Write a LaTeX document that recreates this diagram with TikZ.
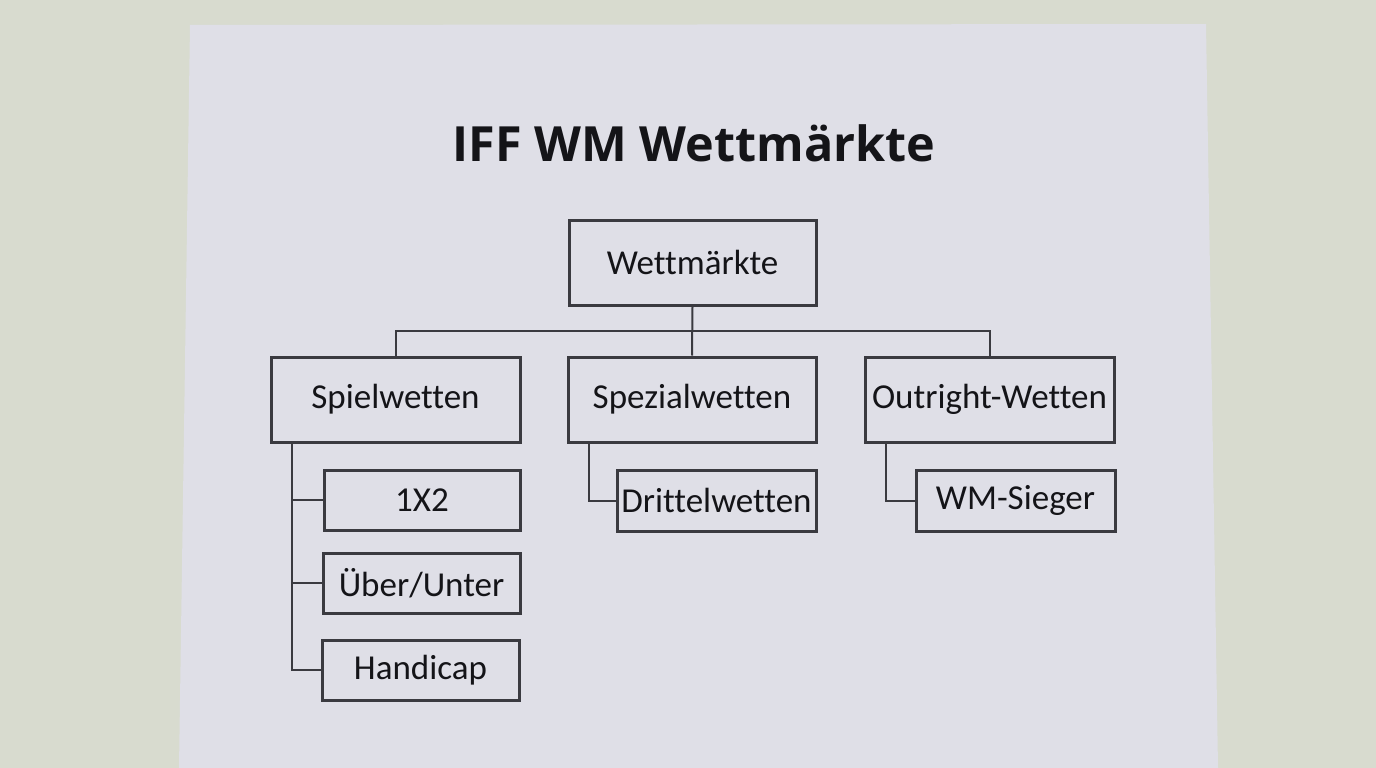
\documentclass[tikz,border=0pt]{standalone}
\usepackage{fontspec}
\setmainfont[Ligatures={NoCommon}]{Carlito}
\newfontfamily\titlefont{Open Sans}
\definecolor{bgc}{HTML}{D8DBCF}
\definecolor{paperc}{HTML}{DFDFE7}
\definecolor{ink}{HTML}{3A3A40}
\definecolor{txt}{HTML}{141418}
\begin{document}
\begin{tikzpicture}[x=1pt,y=-1pt,
  box/.style={draw=ink,line width=3pt,fill=paperc,text=txt,font=\fontsize{35}{38}\selectfont,inner sep=0pt},
  conn/.style={draw=ink,line width=2pt}]
\useasboundingbox (0,0) rectangle (1376,768);
\fill[bgc] (0,0) rectangle (1376,768);
\fill[paperc] (190,25) -- (1206,24) -- (1218,768) -- (179,768) -- cycle;
\node[text=txt,font=\titlefont\bfseries\fontsize{48.5}{54}\selectfont,anchor=base] (title) at (694,161) {IFF WM Wettmärkte};
% boxes
\node[box,minimum width=247pt,minimum height=85pt] (root) at (692.5,262.5) {Wettmärkte};
\node[box,minimum width=249pt,minimum height=85pt] (spiel) at (395.5,399.5) {Spielwetten};
\node[box,minimum width=248pt,minimum height=85pt] (spez) at (692,399.5) {Spezialwetten};
\node[box,minimum width=249pt,minimum height=85pt] (out) at (989.5,399.5) {Outright-Wetten};
\node[box,minimum width=196pt,minimum height=60pt] (x12) at (422,500) {1X2};
\node[box,minimum width=197pt,minimum height=60pt] (ou) at (421.5,583) {Über/Unter};
\node[box,minimum width=197pt,minimum height=60pt] (hc) at (420.5,670) {Handicap};
\node[box,minimum width=199pt,minimum height=61pt] (dritt) at (716.5,500.5) {Drittelwetten};
\node[box,minimum width=199pt,minimum height=61pt] (wm) at (1015.5,500.5) {WM-Sieger};
% connectors
\coordinate (bar) at (692,331);
\draw[conn] (root.south) -- (spez.north);
\draw[conn] (spiel.north) |- (bar) -| (out.north);
\draw[conn] ([xshift=-104pt]spiel.south) |- (hc.west);
\draw[conn] ([xshift=-104pt]spiel.south) |- (x12.west);
\draw[conn] ([xshift=-104pt]spiel.south) |- (ou.west);
\draw[conn] ([xshift=-103pt]spez.south) |- (dritt.west);
\draw[conn] ([xshift=-103.5pt]out.south) |- (wm.west);
\end{tikzpicture}
\end{document}
